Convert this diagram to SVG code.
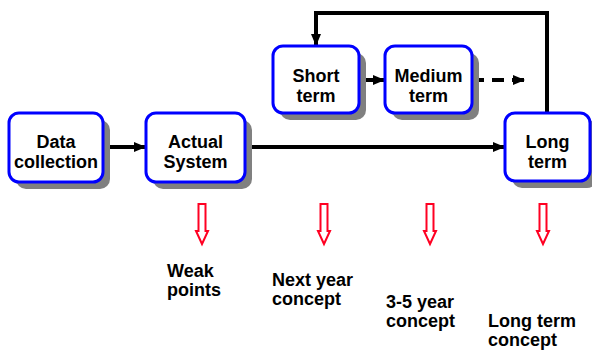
<svg xmlns="http://www.w3.org/2000/svg" width="592" height="351" viewBox="0 0 592 351">
<style>
.shadow{fill:#808080}
.box{fill:#fff;stroke:#0000ff;stroke-width:3}
.t{font-family:"Liberation Sans",Arial,sans-serif;font-weight:bold;font-size:18px;fill:#000}
.c{text-anchor:middle}
.ln{fill:none;stroke:#000;stroke-width:4}
.red{fill:#fff;stroke:#ff0022;stroke-width:2}
</style>
<defs>
<marker id="ah" markerUnits="userSpaceOnUse" markerWidth="12" markerHeight="12" viewBox="0 0 12 12" refX="12" refY="6" orient="auto">
<path d="M0,1 L12,6 L0,11 Z" fill="#000"/>
</marker>
</defs>
<rect width="592" height="351" fill="#fff"/>
<g id="connectors">
<line class="ln" x1="103" y1="147" x2="146" y2="147" marker-end="url(#ah)"/>
<line class="ln" x1="245" y1="147" x2="505" y2="147" marker-end="url(#ah)"/>
<line class="ln" x1="359" y1="80" x2="385" y2="80" marker-end="url(#ah)"/>
<line class="ln" x1="472" y1="80" x2="525" y2="80" stroke-dasharray="12,8" marker-end="url(#ah)"/>
<polyline class="ln" points="547,113 547,13 316,13 316,46" marker-end="url(#ah)"/>
</g>
<g id="data-collection">
<rect class="shadow" x="16" y="120" width="94" height="69" rx="10"/>
<rect class="box" x="9" y="113" width="94" height="69" rx="10"/>
<text class="t c" x="56" y="148">Data<tspan x="56" y="168">collection</tspan></text>
</g>
<g id="actual-system">
<rect class="shadow" x="153" y="120" width="99" height="69" rx="10"/>
<rect class="box" x="146" y="113" width="99" height="69" rx="10"/>
<text class="t c" x="195.5" y="148">Actual<tspan x="195.5" y="168">System</tspan></text>
</g>
<g id="short-term">
<rect class="shadow" x="280" y="53" width="86" height="67" rx="10"/>
<rect class="box" x="273" y="46" width="86" height="67" rx="10"/>
<text class="t c" x="316" y="82">Short<tspan x="316" y="102">term</tspan></text>
</g>
<g id="medium-term">
<rect class="shadow" x="392" y="53" width="87" height="67" rx="10"/>
<rect class="box" x="385" y="46" width="87" height="67" rx="10"/>
<text class="t c" x="428.5" y="82">Medium<tspan x="428.5" y="102">term</tspan></text>
</g>
<g id="long-term">
<rect class="shadow" x="512" y="120" width="85" height="68" rx="10"/>
<rect class="box" x="505" y="113" width="85" height="68" rx="10"/>
<text class="t c" x="547.5" y="148">Long<tspan x="547.5" y="168">term</tspan></text>
</g>
<g id="red-arrows">
<polygon class="red" points="198.5,204 205.5,204 205.5,231 208,231 202,244 196,231 198.5,231"/>
<polygon class="red" points="320.5,204 327.5,204 327.5,231 330,231 324,244 318,231 320.5,231"/>
<polygon class="red" points="426.5,204 433.5,204 433.5,231 436,231 430,244 424,231 426.5,231"/>
<polygon class="red" points="539.5,204 546.5,204 546.5,231 549,231 543,244 537,231 539.5,231"/>
</g>
<g id="labels">
<text class="t" x="167" y="277">Weak<tspan x="167" y="296">points</tspan></text>
<text class="t" x="272" y="286">Next year<tspan x="272" y="305">concept</tspan></text>
<text class="t" x="386" y="308">3-5 year<tspan x="386" y="327">concept</tspan></text>
<text class="t" x="488" y="327">Long term<tspan x="488" y="346">concept</tspan></text>
</g>
</svg>
